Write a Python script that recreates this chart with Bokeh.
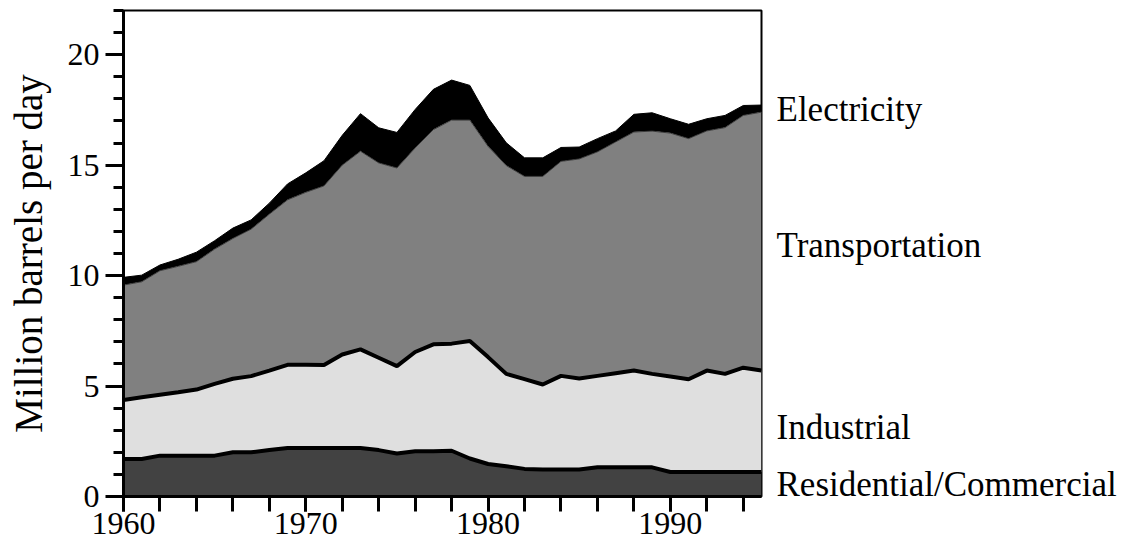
import numpy as np
from bokeh.plotting import figure
from bokeh.models import FixedTicker, Range1d, ColumnDataSource, LinearAxis
from bokeh.embed import file_html
from bokeh.resources import INLINE

# ---- data (million barrels per day) ----
years = list(range(1960, 1996))
residential = [1.70, 1.70, 1.85, 1.85, 1.85, 1.85, 2.00, 2.00, 2.10, 2.20, 2.20, 2.20,
               2.20, 2.20, 2.10, 1.95, 2.05, 2.05, 2.07, 1.72, 1.47, 1.37, 1.25, 1.22,
               1.22, 1.22, 1.32, 1.32, 1.32, 1.32, 1.11, 1.11, 1.11, 1.11, 1.11, 1.11]
industrial = [2.67, 2.79, 2.76, 2.87, 2.99, 3.25, 3.33, 3.45, 3.60, 3.76, 3.76, 3.75,
              4.23, 4.46, 4.18, 3.95, 4.49, 4.84, 4.85, 5.32, 4.84, 4.18, 4.06, 3.85,
              4.24, 4.12, 4.14, 4.26, 4.38, 4.23, 4.32, 4.20, 4.59, 4.44, 4.72, 4.59]
transportation = [5.20, 5.23, 5.61, 5.70, 5.79, 6.10, 6.35, 6.65, 7.08, 7.47, 7.81, 8.11,
                  8.57, 8.97, 8.82, 8.97, 9.24, 9.72, 10.12, 10.00, 9.54, 9.43, 9.18, 9.42,
                  9.71, 9.94, 10.14, 10.47, 10.80, 10.99, 11.02, 10.89, 10.85, 11.15, 11.42, 11.70]
electricity = [0.35, 0.30, 0.26, 0.32, 0.43, 0.38, 0.47, 0.42, 0.50, 0.72, 0.88, 1.14,
               1.35, 1.70, 1.59, 1.61, 1.74, 1.82, 1.81, 1.57, 1.29, 1.03, 0.84, 0.84,
               0.63, 0.54, 0.60, 0.50, 0.80, 0.83, 0.65, 0.65, 0.55, 0.55, 0.45, 0.32]
sector_names = ["Residential/Commercial", "Industrial", "Transportation", "Electricity"]
y_major_ticks = [0, 5, 10, 15, 20]
x_major_ticks = [1960, 1970, 1980, 1990]

# ---- stacking ----
r = np.array(residential)
i_top = r + np.array(industrial)
t_top = i_top + np.array(transportation)
e_top = t_top + np.array(electricity)
src = ColumnDataSource(dict(x=years, zero=[0] * len(years), r=r, i=i_top, t=t_top, e=e_top))

FONT = "'Liberation Serif', serif"

p = figure(width=1130, height=546, x_range=Range1d(1960, 1995), y_range=Range1d(0, 22),
           output_backend="svg", toolbar_location=None,
           min_border_left=123, min_border_right=369, min_border_top=10, min_border_bottom=50)
p.background_fill_color = "white"
p.border_fill_color = "white"
p.xgrid.visible = False
p.ygrid.visible = False
p.outline_line_color = "black"
p.outline_line_width = 2

p.varea(x="x", y1="t", y2="e", source=src, fill_color="#000000")
p.varea(x="x", y1="i", y2="t", source=src, fill_color="#808080")
p.varea(x="x", y1="r", y2="i", source=src, fill_color="#dfdfdf")
p.varea(x="x", y1="zero", y2="r", source=src, fill_color="#424242")

p.line(x="x", y="e", source=src, line_color="black", line_width=1)
p.line(x="x", y="t", source=src, line_color="#3a3a3a", line_width=1)
p.line(x="x", y="i", source=src, line_color="black", line_width=4)
p.line(x="x", y="r", source=src, line_color="black", line_width=4)

# axes
xa = p.xaxis[0]
xa.ticker = FixedTicker(ticks=x_major_ticks, minor_ticks=list(range(1960, 1996, 2)))
xa.axis_line_width = 3
xa.major_tick_line_width = 3
xa.minor_tick_line_width = 3
xa.major_tick_out = 15
xa.major_tick_in = 0
xa.minor_tick_out = 15
xa.minor_tick_in = 0
xa.major_label_text_font = FONT
xa.major_label_text_font_size = "32px"
xa.major_label_text_color = "black"
xa.major_label_standoff = 1

ya = p.yaxis[0]
ya.ticker = FixedTicker(ticks=y_major_ticks, minor_ticks=list(range(0, 23)))
ya.axis_line_width = 3
ya.major_tick_line_width = 3
ya.minor_tick_line_width = 3
ya.major_tick_out = 18
ya.major_tick_in = 0
ya.minor_tick_out = 10
ya.minor_tick_in = 0
ya.major_label_text_font = FONT
ya.major_label_text_font_size = "32px"
ya.major_label_text_color = "black"
ya.major_label_standoff = 6
ya.axis_label = "Million barrels per day"
ya.axis_label_text_font = FONT
ya.axis_label_text_font_size = "39px"
ya.axis_label_text_font_style = "normal"
ya.axis_label_text_color = "black"
ya.axis_label_standoff = 15

# sector labels at right, as a label-only axis
label_y = [0.55, 3.14, 11.34, 17.5]
ra = LinearAxis(ticker=FixedTicker(ticks=label_y, minor_ticks=[]),
                major_label_overrides={yy: name for yy, name in zip(label_y, sector_names)},
                axis_line_color=None, major_tick_line_color=None, minor_tick_line_color=None,
                major_tick_out=0, major_tick_in=0, minor_tick_out=0, minor_tick_in=0,
                major_label_standoff=15, major_label_text_font=FONT,
                major_label_text_font_size="35px", major_label_text_color="black")
p.add_layout(ra, "right")

open("out.html", "w").write(file_html(p, INLINE))
